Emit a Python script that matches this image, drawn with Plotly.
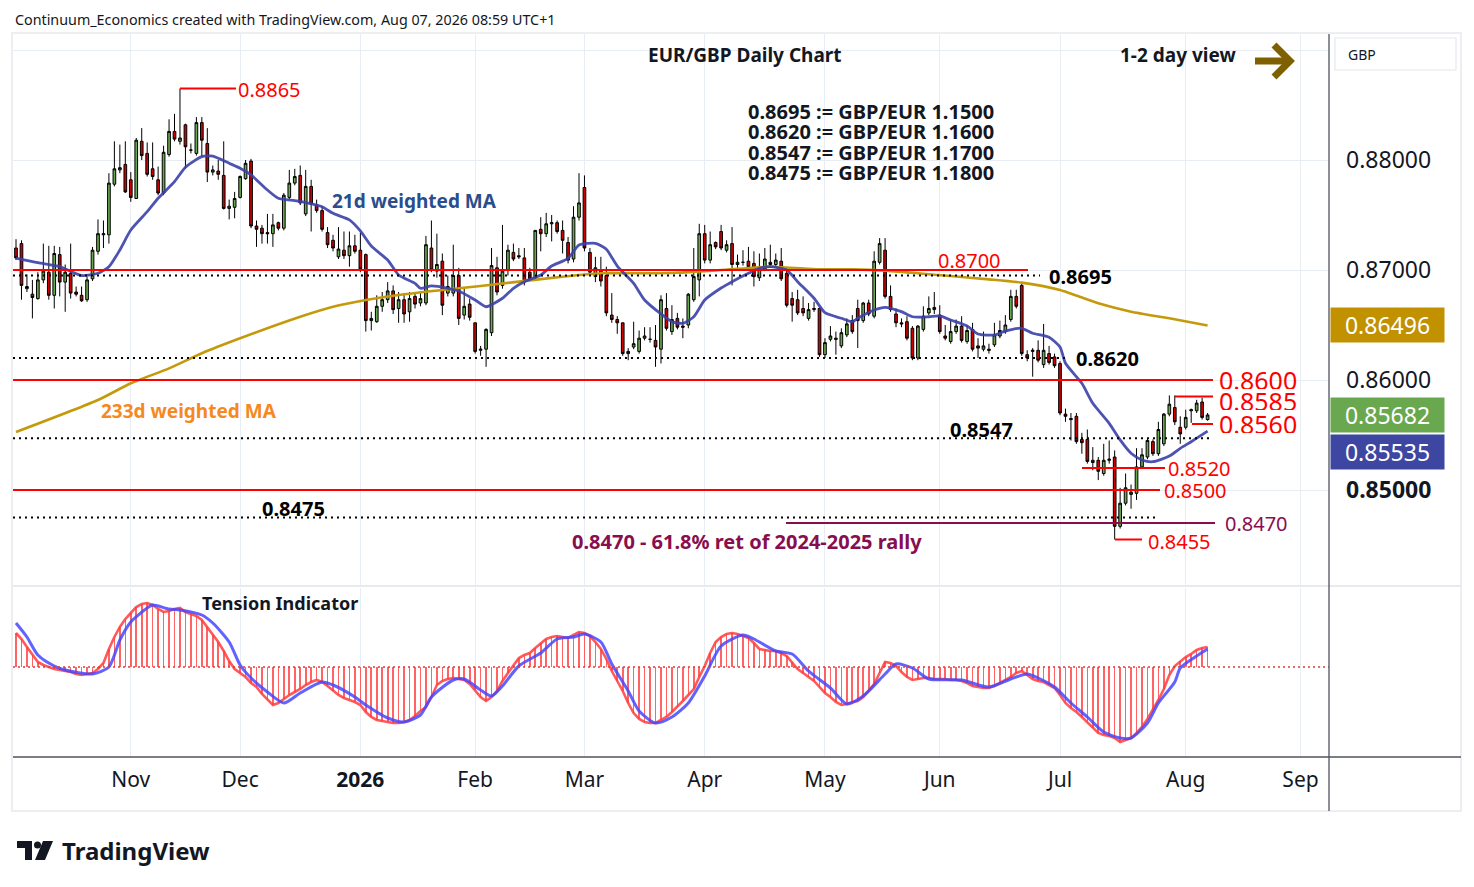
import pandas as pd
import plotly.graph_objects as go
from plotly.subplots import make_subplots

# ---------------- data (EUR/GBP daily) ----------------
open_ = [
    0.8720, 0.8724, 0.8683, 0.8678, 0.8674, 0.8691, 0.8698, 0.8677, 0.8714, 0.8689,
    0.8697, 0.8680, 0.8677, 0.8673, 0.8692, 0.8717, 0.8732, 0.8732, 0.8778, 0.8791,
    0.8796, 0.8782, 0.8765, 0.8817, 0.8806, 0.8792, 0.8782, 0.8770, 0.8805, 0.8826,
    0.8817, 0.8832, 0.8809, 0.8806, 0.8834, 0.8815, 0.8789, 0.8790, 0.8786, 0.8756,
    0.8757, 0.8766, 0.8783, 0.8799, 0.8740, 0.8738, 0.8734, 0.8733, 0.8743, 0.8738,
    0.8766, 0.8779, 0.8786, 0.8751, 0.8776, 0.8759, 0.8754, 0.8734, 0.8727, 0.8712,
    0.8718, 0.8713, 0.8722, 0.8718, 0.8714, 0.8654, 0.8653, 0.8667, 0.8673, 0.8681,
    0.8665, 0.8673, 0.8662, 0.8676, 0.8670, 0.8670, 0.8720, 0.8699, 0.8708, 0.8679,
    0.8679, 0.8695, 0.8659, 0.8669, 0.8652, 0.8627, 0.8628, 0.8643, 0.8702, 0.8686,
    0.8700, 0.8716, 0.8713, 0.8711, 0.8698, 0.8693, 0.8737, 0.8733, 0.8742, 0.8743,
    0.8736, 0.8725, 0.8710, 0.8748, 0.8775, 0.8716, 0.8694, 0.8700, 0.8695, 0.8659,
    0.8655, 0.8652, 0.8624, 0.8630, 0.8626, 0.8638, 0.8637, 0.8636, 0.8628, 0.8665,
    0.8644, 0.8656, 0.8649, 0.8650, 0.8673, 0.8691, 0.8733, 0.8709, 0.8725, 0.8735,
    0.8718, 0.8724, 0.8705, 0.8707, 0.8708, 0.8706, 0.8693, 0.8701, 0.8707, 0.8705,
    0.8708, 0.8697, 0.8674, 0.8673, 0.8665, 0.8656, 0.8664, 0.8665, 0.8623, 0.8637,
    0.8638, 0.8631, 0.8641, 0.8654, 0.8665, 0.8654, 0.8670, 0.8658, 0.8707, 0.8718,
    0.8676, 0.8660, 0.8652, 0.8653, 0.8647, 0.8620, 0.8646, 0.8661, 0.8664, 0.8659,
    0.8640, 0.8635, 0.8644, 0.8649, 0.8635, 0.8646, 0.8631, 0.8628, 0.8628, 0.8632,
    0.8640, 0.8644, 0.8655, 0.8676, 0.8686, 0.8623, 0.8626, 0.8627, 0.8614, 0.8624,
    0.8621, 0.8615, 0.8569, 0.8565, 0.8567, 0.8546, 0.8546, 0.8525, 0.8527, 0.8515,
    0.8527, 0.8530, 0.8467, 0.8488, 0.8496, 0.8497, 0.8521, 0.8530, 0.8544, 0.8533,
    0.8542, 0.8569, 0.8575, 0.8557, 0.8557, 0.8572, 0.8572, 0.8580, 0.8564,
]
high = [
    0.8728, 0.8727, 0.8696, 0.8691, 0.8698, 0.8724, 0.8722, 0.8722, 0.8721, 0.8705,
    0.8724, 0.8685, 0.8685, 0.8694, 0.8721, 0.8746, 0.8745, 0.8788, 0.8817, 0.8814,
    0.8817, 0.8789, 0.8820, 0.8829, 0.8816, 0.8816, 0.8794, 0.8813, 0.8837, 0.8842,
    0.8865, 0.8833, 0.8815, 0.8839, 0.8839, 0.8829, 0.8795, 0.8800, 0.8817, 0.8764,
    0.8771, 0.8786, 0.8800, 0.8801, 0.8745, 0.8741, 0.8751, 0.8751, 0.8744, 0.8770,
    0.8791, 0.8792, 0.8795, 0.8791, 0.8782, 0.8764, 0.8758, 0.8739, 0.8732, 0.8739,
    0.8735, 0.8735, 0.8732, 0.8734, 0.8715, 0.8662, 0.8677, 0.8680, 0.8689, 0.8686,
    0.8680, 0.8679, 0.8680, 0.8680, 0.8680, 0.8731, 0.8745, 0.8733, 0.8715, 0.8695,
    0.8723, 0.8702, 0.8683, 0.8674, 0.8652, 0.8631, 0.8647, 0.8720, 0.8712, 0.8741,
    0.8723, 0.8724, 0.8720, 0.8720, 0.8702, 0.8736, 0.8748, 0.8752, 0.8750, 0.8745,
    0.8745, 0.8730, 0.8758, 0.8788, 0.8786, 0.8720, 0.8712, 0.8712, 0.8703, 0.8679,
    0.8658, 0.8652, 0.8629, 0.8653, 0.8645, 0.8648, 0.8648, 0.8650, 0.8677, 0.8679,
    0.8668, 0.8661, 0.8656, 0.8679, 0.8720, 0.8742, 0.8741, 0.8735, 0.8726, 0.8741,
    0.8727, 0.8739, 0.8714, 0.8718, 0.8721, 0.8717, 0.8715, 0.8720, 0.8723, 0.8715,
    0.8720, 0.8702, 0.8680, 0.8682, 0.8676, 0.8670, 0.8671, 0.8666, 0.8638, 0.8649,
    0.8644, 0.8647, 0.8656, 0.8659, 0.8673, 0.8671, 0.8673, 0.8717, 0.8729, 0.8729,
    0.8686, 0.8665, 0.8656, 0.8658, 0.8649, 0.8650, 0.8667, 0.8676, 0.8680, 0.8668,
    0.8650, 0.8655, 0.8655, 0.8658, 0.8650, 0.8652, 0.8638, 0.8644, 0.8633, 0.8652,
    0.8654, 0.8659, 0.8682, 0.8682, 0.8689, 0.8627, 0.8629, 0.8636, 0.8651, 0.8631,
    0.8624, 0.8617, 0.8574, 0.8570, 0.8570, 0.8552, 0.8555, 0.8539, 0.8530, 0.8542,
    0.8545, 0.8536, 0.8502, 0.8515, 0.8505, 0.8538, 0.8538, 0.8547, 0.8546, 0.8562,
    0.8570, 0.8586, 0.8586, 0.8567, 0.8573, 0.8574, 0.8582, 0.8584, 0.8570,
]
low = [
    0.8709, 0.8673, 0.8680, 0.8656, 0.8673, 0.8688, 0.8673, 0.8665, 0.8676, 0.8662,
    0.8674, 0.8676, 0.8671, 0.8671, 0.8690, 0.8714, 0.8720, 0.8724, 0.8776, 0.8788,
    0.8770, 0.8762, 0.8765, 0.8800, 0.8785, 0.8782, 0.8768, 0.8768, 0.8803, 0.8817,
    0.8814, 0.8792, 0.8806, 0.8804, 0.8803, 0.8780, 0.8786, 0.8782, 0.8755, 0.8746,
    0.8747, 0.8765, 0.8782, 0.8738, 0.8721, 0.8724, 0.8724, 0.8721, 0.8736, 0.8736,
    0.8764, 0.8777, 0.8759, 0.8749, 0.8735, 0.8752, 0.8735, 0.8720, 0.8717, 0.8710,
    0.8710, 0.8703, 0.8715, 0.8698, 0.8644, 0.8645, 0.8652, 0.8662, 0.8670, 0.8660,
    0.8652, 0.8652, 0.8653, 0.8665, 0.8667, 0.8668, 0.8698, 0.8693, 0.8659, 0.8676,
    0.8676, 0.8650, 0.8655, 0.8654, 0.8624, 0.8622, 0.8612, 0.8640, 0.8677, 0.8683,
    0.8695, 0.8708, 0.8710, 0.8686, 0.8690, 0.8690, 0.8717, 0.8730, 0.8726, 0.8733,
    0.8715, 0.8706, 0.8707, 0.8745, 0.8717, 0.8695, 0.8689, 0.8685, 0.8658, 0.8652,
    0.8642, 0.8622, 0.8618, 0.8628, 0.8624, 0.8636, 0.8634, 0.8612, 0.8615, 0.8645,
    0.8641, 0.8646, 0.8638, 0.8647, 0.8671, 0.8676, 0.8706, 0.8706, 0.8719, 0.8718,
    0.8716, 0.8686, 0.8702, 0.8704, 0.8700, 0.8685, 0.8690, 0.8699, 0.8703, 0.8703,
    0.8690, 0.8666, 0.8653, 0.8659, 0.8658, 0.8654, 0.8662, 0.8621, 0.8620, 0.8635,
    0.8623, 0.8629, 0.8639, 0.8642, 0.8629, 0.8652, 0.8658, 0.8656, 0.8705, 0.8674,
    0.8662, 0.8648, 0.8648, 0.8636, 0.8618, 0.8618, 0.8644, 0.8659, 0.8660, 0.8642,
    0.8636, 0.8633, 0.8642, 0.8634, 0.8633, 0.8626, 0.8620, 0.8626, 0.8624, 0.8630,
    0.8638, 0.8642, 0.8653, 0.8665, 0.8622, 0.8617, 0.8603, 0.8616, 0.8611, 0.8614,
    0.8611, 0.8568, 0.8562, 0.8545, 0.8542, 0.8533, 0.8524, 0.8518, 0.8509, 0.8513,
    0.8524, 0.8455, 0.8465, 0.8486, 0.8483, 0.8491, 0.8519, 0.8528, 0.8531, 0.8531,
    0.8540, 0.8567, 0.8559, 0.8542, 0.8555, 0.8561, 0.8570, 0.8564, 0.8563,
]
close = [
    0.8711, 0.8686, 0.8685, 0.8675, 0.8691, 0.8699, 0.8677, 0.8715, 0.8689, 0.8698,
    0.8679, 0.8678, 0.8672, 0.8691, 0.8718, 0.8733, 0.8733, 0.8779, 0.8792, 0.8793,
    0.8771, 0.8766, 0.8818, 0.8804, 0.8787, 0.8785, 0.8770, 0.8807, 0.8826, 0.8819,
    0.8820, 0.8812, 0.8809, 0.8834, 0.8818, 0.8789, 0.8791, 0.8787, 0.8756, 0.8758,
    0.8765, 0.8785, 0.8797, 0.8740, 0.8737, 0.8733, 0.8733, 0.8741, 0.8738, 0.8768,
    0.8779, 0.8785, 0.8761, 0.8776, 0.8760, 0.8754, 0.8737, 0.8723, 0.8720, 0.8719,
    0.8713, 0.8722, 0.8717, 0.8701, 0.8654, 0.8656, 0.8667, 0.8673, 0.8681, 0.8664,
    0.8673, 0.8660, 0.8674, 0.8669, 0.8674, 0.8723, 0.8700, 0.8705, 0.8668, 0.8685,
    0.8695, 0.8656, 0.8667, 0.8657, 0.8626, 0.8628, 0.8646, 0.8704, 0.8680, 0.8699,
    0.8718, 0.8710, 0.8712, 0.8689, 0.8692, 0.8736, 0.8733, 0.8742, 0.8743, 0.8735,
    0.8727, 0.8709, 0.8748, 0.8761, 0.8720, 0.8698, 0.8702, 0.8690, 0.8661, 0.8655,
    0.8652, 0.8624, 0.8626, 0.8633, 0.8638, 0.8640, 0.8637, 0.8630, 0.8673, 0.8647,
    0.8655, 0.8648, 0.8648, 0.8678, 0.8694, 0.8733, 0.8709, 0.8723, 0.8721, 0.8720,
    0.8723, 0.8705, 0.8707, 0.8707, 0.8703, 0.8694, 0.8701, 0.8710, 0.8705, 0.8709,
    0.8692, 0.8668, 0.8668, 0.8661, 0.8661, 0.8664, 0.8665, 0.8623, 0.8634, 0.8640,
    0.8637, 0.8643, 0.8651, 0.8644, 0.8654, 0.8670, 0.8660, 0.8708, 0.8724, 0.8676,
    0.8664, 0.8652, 0.8651, 0.8638, 0.8620, 0.8649, 0.8658, 0.8665, 0.8666, 0.8644,
    0.8638, 0.8644, 0.8649, 0.8636, 0.8645, 0.8628, 0.8629, 0.8631, 0.8627, 0.8641,
    0.8645, 0.8650, 0.8676, 0.8667, 0.8624, 0.8620, 0.8627, 0.8618, 0.8627, 0.8616,
    0.8613, 0.8570, 0.8567, 0.8564, 0.8544, 0.8543, 0.8526, 0.8527, 0.8517, 0.8527,
    0.8528, 0.8467, 0.8488, 0.8502, 0.8498, 0.8521, 0.8532, 0.8545, 0.8533, 0.8555,
    0.8569, 0.8578, 0.8562, 0.8551, 0.8566, 0.8573, 0.8579, 0.8566, 0.85682,
]

# 21d weighted MA (bar number, value)
ma21_bar = [0, 4, 8, 12, 15, 17, 19, 21, 24, 26, 29, 31, 34, 36, 39, 41, 43, 46, 48, 51,
            53, 56, 58, 61, 63, 65, 68, 70, 73, 74, 76, 79, 81, 84, 86, 89, 91, 93, 96, 98,
            101, 103, 106, 108, 110, 113, 115, 118, 120, 122, 124, 126, 129, 131, 134, 136,
            138, 141, 143, 146, 148, 151, 153, 154, 157, 159, 162, 164, 167, 169, 171, 174,
            176, 179, 181, 184, 186, 189, 191, 192, 195, 197, 200, 202, 204, 206, 208, 211,
            213, 215, 218]
ma21_val = [0.87109, 0.87066, 0.87030, 0.86950, 0.86970, 0.87030, 0.87182, 0.87364, 0.87530,
            0.87652, 0.87803, 0.87934, 0.88030, 0.88036, 0.87970, 0.87925, 0.87864, 0.87727,
            0.87652, 0.87630, 0.87612, 0.87575, 0.87515, 0.87455, 0.87355, 0.87218, 0.87091,
            0.86955, 0.86879, 0.86834, 0.86855, 0.86834, 0.86809, 0.86727, 0.86666, 0.86743,
            0.86834, 0.86894, 0.86955, 0.87036, 0.87106, 0.87227, 0.87243, 0.87188, 0.87036,
            0.86879, 0.86727, 0.86600, 0.86530, 0.86515, 0.86575, 0.86727, 0.86836, 0.86894,
            0.86970, 0.87015, 0.87030, 0.87000, 0.86894, 0.86743, 0.86612, 0.86561, 0.86530,
            0.86561, 0.86636, 0.86661, 0.86621, 0.86575, 0.86575, 0.86582, 0.86545, 0.86491,
            0.86418, 0.86409, 0.86445, 0.86470, 0.86425, 0.86388, 0.86300, 0.86152, 0.85970,
            0.85788, 0.85606, 0.85455, 0.85334, 0.85273, 0.85257, 0.85309, 0.85379, 0.85439,
            0.85535]
# 233d weighted MA (bar number, value)
ma233_bar = [0, 15, 21, 28, 34, 41, 52, 58, 64, 70, 78, 85, 92, 100, 107, 114, 121, 129,
             138, 147, 153, 159, 165, 171, 178, 184, 191, 198, 204, 211, 218]
ma233_val = [0.85527, 0.85818, 0.85970, 0.86106, 0.86243, 0.86379, 0.86575, 0.86666,
             0.86727, 0.86773, 0.86818, 0.86855, 0.86894, 0.86939, 0.86970, 0.86970,
             0.86975, 0.87000, 0.87030, 0.87006, 0.87006, 0.86994, 0.86970, 0.86945,
             0.86915, 0.86885, 0.86818, 0.86697, 0.86621, 0.86561, 0.86496]

# Tension Indicator (one value per bar) and its signal line
tension = [
    34, 28, 20, 12, 5, 2, 0, -2, -3, -4,
    -5, -7, -8, -7, -6, -2, 4, 18, 30, 40,
    48, 54, 60, 63, 64, 62, 58, 55, 56, 58,
    59, 55, 53, 51, 47, 40, 32, 25, 16, 6,
    -2, -6, -10, -16, -20, -27, -33, -38, -36, -32,
    -28, -25, -22, -18, -15, -13, -15, -19, -24, -28,
    -31, -33, -35, -38, -45, -50, -53, -54, -55, -56,
    -56, -55, -53, -49, -44, -40, -30, -18, -14, -12,
    -11, -12, -13, -17, -23, -30, -34, -30, -24, -14,
    -6, 2, 9, 12, 14, 19, 24, 28, 30, 31,
    30, 29, 32, 35, 34, 31, 25, 18, 8, -4,
    -14, -24, -36, -46, -52, -55, -56, -56, -53, -50,
    -45, -40, -34, -28, -22, -10, 1, 14, 25, 30,
    33, 34, 33, 31, 29, 24, 18, 17, 16, 16,
    14, 11, 5, -2, -6, -10, -14, -20, -26, -30,
    -35, -38, -37, -35, -34, -30, -24, -17, -6, 5,
    4, 1, -5, -10, -13, -12, -11, -11, -12, -12,
    -12, -13, -13, -14, -16, -19, -20, -21, -21, -19,
    -16, -13, -10, -6, -4, -8, -12, -14, -15, -18,
    -21, -28, -36, -41, -45, -50, -55, -61, -66, -68,
    -69, -71, -75, -73, -71, -66, -60, -52, -43, -33,
    -22, -8, 1, 6, 10, 13, 17, 19, 20,
]
signal_bar = [0, 2, 4, 7, 9, 14, 17, 19, 21, 24, 25, 28, 30, 34, 36, 39, 41, 43, 46, 49,
              52, 56, 58, 62, 64, 68, 71, 74, 76, 80, 82, 85, 87, 89, 92, 96, 99, 102, 104,
              107, 109, 112, 114, 117, 120, 123, 126, 129, 133, 135, 139, 142, 145, 149,
              152, 155, 159, 161, 164, 167, 173, 178, 182, 185, 187, 190, 193, 196, 199,
              202, 204, 207, 209, 212, 213, 216, 218]
signal_val = [44, 30, 12, 1, -3, -7, 0, 27, 45, 59, 62, 58, 57, 52, 44, 25, 2, -11, -25, -36,
              -26, -15, -18, -30, -38, -51, -55, -48, -30, -13, -12, -23, -29, -19, 1, 14,
              28, 30, 33, 25, 3, -24, -44, -56, -50, -36, -9, 21, 32, 28, 16, 13, -4, -21,
              -37, -29, -7, 3, -1, -12, -13, -20, -12, -7, -11, -20, -36, -50, -65, -71,
              -71, -56, -36, -15, -1, 11, 18]

# marked price levels
lv_high = 0.8865
lv_8700 = 0.8700
lv_8695 = 0.8695
lv_8620 = 0.8620
lv_8600 = 0.8600
lv_8585 = 0.8585
lv_8560 = 0.8560
lv_8547 = 0.8547
lv_8520 = 0.8520
lv_8500 = 0.8500
lv_8475 = 0.8475
lv_8470 = 0.8470
lv_8455 = 0.8455

price_ticks = [0.85, 0.86, 0.87, 0.88, 0.89]
price_tick_text = ["<b>0.85000</b>", "0.86000", "0.87000", "0.88000", ""]
last_close = 0.85682
last_ma21 = 0.85535
last_ma233 = 0.86496
conversions = ["0.8695 := GBP/EUR 1.1500", "0.8620 := GBP/EUR 1.1600",
               "0.8547 := GBP/EUR 1.1700", "0.8475 := GBP/EUR 1.1800"]

# ---------------- calendar (trading days, no Christmas / New Year bars) ----------------
n = len(close)
bars = list(range(n))
days = pd.bdate_range("2025-10-03", "2026-09-30")
days = days[~days.isin(pd.to_datetime(["2025-12-25", "2026-01-01"]))]
tick_pos, tick_txt = [], []
for m in pd.period_range("2025-11", "2026-09", freq="M"):
    idx = next(i for i, d in enumerate(days) if d.year == m.year and d.month == m.month)
    tick_pos.append(idx)
    tick_txt.append("<b>2026</b>" if m.month == 1 else m.strftime("%b"))

# ---------------- geometry helpers (page pixel -> paper / bar) ----------------
OFF = 8                      # page body margin of the html page
FIG_W, FIG_H = 1474 - OFF, 887 - OFF
PL, PR, PT, PB = 13, 1329, 34, 757   # plot box in page pixels
def fx(px):
    return (px - PL) / (PR - PL)
def fy(py):
    return (PB - py) / (PB - PT)
BAR0, BARW = 16.0, 5.466
def bx(px):
    return (px - BAR0) / BARW
def price_at(py):
    return 0.85 + (490 - py) / 11000.0

FONT = "Noto Sans"
INK = "#131722"
GRID = "#e8edf3"
RED = "#ff0000"
MAROON = "#880e4f"

fig = make_subplots(rows=2, cols=1, shared_xaxes=True, vertical_spacing=0.004)

fig.add_trace(go.Candlestick(
    x=bars, open=open_, high=high, low=low, close=close,
    increasing=dict(fillcolor="#6aa84f", line=dict(color="#000000", width=1)),
    decreasing=dict(fillcolor="#cc0000", line=dict(color="#000000", width=1)),
    whiskerwidth=0, hoverinfo="skip"), row=1, col=1)
fig.add_trace(go.Scatter(x=ma233_bar, y=ma233_val, mode="lines",
                         line=dict(color="#c49a0c", width=2.6, shape="spline", smoothing=0.6),
                         hoverinfo="skip"), row=1, col=1)
fig.add_trace(go.Scatter(x=ma21_bar, y=ma21_val, mode="lines",
                         line=dict(color="rgba(58,64,168,0.9)", width=2.8, shape="spline", smoothing=0.6),
                         hoverinfo="skip"), row=1, col=1)

fig.add_trace(go.Bar(x=bars, y=tension, width=0.3, marker=dict(color="rgba(255,60,60,0.8)", line=dict(width=0)),
                     hoverinfo="skip"), row=2, col=1)
fig.add_trace(go.Scatter(x=bars, y=tension, mode="lines",
                         line=dict(color="rgba(255,60,60,0.85)", width=2.6), hoverinfo="skip"), row=2, col=1)
fig.add_trace(go.Scatter(x=signal_bar, y=signal_val, mode="lines",
                         line=dict(color="rgba(70,70,255,0.85)", width=3, shape="spline", smoothing=0.7),
                         hoverinfo="skip"), row=2, col=1)

xmin, xmax = bx(PL), bx(PR)
fig.update_layout(
    width=FIG_W, height=FIG_H,
    margin=dict(l=PL - OFF, r=FIG_W - (PR - OFF), t=PT - OFF, b=FIG_H - (PB - OFF)),
    paper_bgcolor="white", plot_bgcolor="white", showlegend=False,
    font=dict(family=FONT, color=INK), bargap=0,
)
fig.update_xaxes(range=[xmin, xmax], tickvals=tick_pos, showgrid=True, gridcolor=GRID, gridwidth=1,
                 zeroline=False, showline=False, ticks="", rangeslider=dict(visible=False))
fig.update_xaxes(showticklabels=False, row=1, col=1)
fig.update_xaxes(ticktext=tick_txt, showticklabels=True, tickfont=dict(size=21, color=INK),
                 ticklabelstandoff=8, row=2, col=1)
fig.update_layout(
    yaxis=dict(domain=[(PB - 585) / (PB - PT), 1], range=[price_at(585), price_at(PT)], side="right",
               tickvals=price_ticks, ticktext=price_tick_text, tickfont=dict(size=23, color=INK),
               showgrid=True, gridcolor=GRID, zeroline=False, ticks="", ticklabelstandoff=16),
    yaxis2=dict(domain=[0, (PB - 588) / (PB - PT)], range=[-90, 79], side="right",
                showgrid=False, zeroline=False, showticklabels=False),
)

shapes = []
def hline(val, x0px, x1px, color, dash="solid", width=2):
    x0 = xmin if x0px is None else bx(x0px)
    shapes.append(dict(type="line", xref="x", yref="y", x0=x0, x1=bx(x1px), y0=val, y1=val,
                       line=dict(color=color, width=width, dash=dash)))
DOT = "2px,4px"
hline(lv_high, 180, 236, RED)
hline(lv_8700, None, 1028, RED)
hline(lv_8695, None, 1040, "#000000", DOT)
hline(lv_8620, None, 1068, "#000000", DOT)
hline(lv_8600, None, 1213, RED)
hline(lv_8585, 1175, 1213, RED)
hline(lv_8560, 1192, 1213, RED)
hline(lv_8547, None, 1213, "#000000", DOT)
hline(lv_8520, 1082, 1165, RED)
hline(lv_8500, None, 1160, RED)
hline(lv_8475, None, 1158, "#000000", DOT)
hline(lv_8470, 786, 1215, MAROON)
hline(lv_8455, 1115, 1142, RED)

# tension zero line
shapes.append(dict(type="line", xref="paper", yref="y2", x0=0, x1=1, y0=0, y1=0,
                   line=dict(color="#e53935", width=1.3, dash="2px,3px")))
# frame / separators
shapes.append(dict(type="rect", xref="paper", yref="paper", x0=fx(12), x1=fx(1461), y0=fy(811), y1=fy(33),
                   line=dict(color="#eceef2", width=2), layer="below"))
shapes.append(dict(type="line", xref="paper", yref="paper", x0=fx(13), x1=fx(1461), y0=fy(586), y1=fy(586),
                   line=dict(color="#e0e3eb", width=1.5)))
shapes.append(dict(type="line", xref="paper", yref="paper", x0=fx(13), x1=fx(1461), y0=fy(757), y1=fy(757),
                   line=dict(color="#50535e", width=1.3)))
shapes.append(dict(type="line", xref="paper", yref="paper", x0=fx(1329), x1=fx(1329), y0=fy(811), y1=fy(34),
                   line=dict(color="#50535e", width=1.3)))
# GBP box
shapes.append(dict(type="rect", xref="paper", yref="paper", x0=fx(1335), x1=fx(1456), y0=fy(70), y1=fy(38),
                   line=dict(color="#e6e8ee", width=1.2), fillcolor="white"))
# 1-2 day arrow
AR = "#7f6000"
shapes.append(dict(type="line", xref="paper", yref="paper", x0=fx(1255), x1=fx(1287), y0=fy(61), y1=fy(61),
                   line=dict(color=AR, width=7)))
shapes.append(dict(type="path", xref="paper", yref="paper",
                   path=f"M {fx(1274)},{fy(45)} L {fx(1290)},{fy(61)} L {fx(1274)},{fy(77)}",
                   line=dict(color=AR, width=7)))
# TradingView logo mark
shapes.append(dict(type="rect", xref="paper", yref="paper", x0=fx(17), x1=fx(32), y0=fy(848), y1=fy(841),
                   fillcolor="#131722", line=dict(width=0)))
shapes.append(dict(type="rect", xref="paper", yref="paper", x0=fx(25), x1=fx(32), y0=fy(860), y1=fy(841),
                   fillcolor="#131722", line=dict(width=0)))
shapes.append(dict(type="circle", xref="paper", yref="paper", x0=fx(34), x1=fx(41), y0=fy(848.5), y1=fy(841.5),
                   fillcolor="#131722", line=dict(width=0)))
shapes.append(dict(type="path", xref="paper", yref="paper",
                   path=f"M {fx(43)},{fy(841)} L {fx(53)},{fy(841)} L {fx(45)},{fy(860)} L {fx(35)},{fy(860)} Z",
                   fillcolor="#131722", line=dict(width=0)))
fig.update_layout(shapes=shapes)

ann = []
def text(s, x, y, size=19, color=INK, anchor="left", bold=False, **kw):
    ann.append(dict(text=f"<b>{s}</b>" if bold else s, xref="paper", yref="paper", x=fx(x), y=fy(y),
                    xanchor=anchor, yanchor="middle", showarrow=False,
                    font=dict(family=FONT, size=size, color=color), **kw))

text("Continuum_Economics created with TradingView.com, Aug 07, 2026 08:59 UTC+1", 13, 19, 14.3)
text("EUR/GBP Daily Chart", 745, 55, 19, anchor="center", bold=True)
text("1-2 day view", 1178, 55, 19, anchor="center", bold=True)
for k, s in enumerate(conversions):
    text(s, 746, 112 + 20 * k, 20, bold=True, height=19)
text("21d weighted MA", 414, 201, 19, "#2a4d8c", "center", True)
text("233d weighted MA", 189, 411, 19, "#f5891f", "center", True)
text("Tension Indicator", 280, 603, 18, anchor="center", bold=True)
text(f"{lv_high:.4f}", 236, 90, 20, RED)
text(f"{lv_8700:.4f}", 969, 260, 20, RED, "center")
text(f"{lv_8695:.4f}", 1047, 276, 20, "#000000", bold=True)
text(f"{lv_8620:.4f}", 1074, 359, 20, "#000000", bold=True)
text(f"{lv_8600:.4f}", 1217, 379, 25, RED, height=19)
text(f"{lv_8585:.4f}", 1217, 400, 25, RED, height=19)
text(f"{lv_8560:.4f}", 1217, 423, 25, RED, height=19)
text(f"{lv_8547:.4f}", 981, 429, 20, "#000000", "center", True)
text(f"{lv_8520:.4f}", 1166, 468, 20, RED)
text(f"{lv_8500:.4f}", 1162, 490, 20, RED)
text(f"{lv_8475:.4f}", 293, 508, 20, "#000000", "center", True)
text(f"{lv_8470:.4f}", 1223, 523, 20, MAROON)
text(f"{lv_8455:.4f}", 1146, 541, 20, RED)
text(f"{lv_8470:.4f} - 61.8% ret of 2024-2025 rally", 747, 541, 20, MAROON, "center", True)
text("GBP", 1346, 54, 14)
text("TradingView", 60, 850, 24, bold=True)

def badge(val, color, y=None, yref="y"):
    ann.append(dict(text=f"{val:.5f}", xref="paper", yref=yref, x=fx(1330),
                    y=val if y is None else y, xanchor="left", yanchor="middle", showarrow=False,
                    width=113, height=34, align="center", bgcolor=color, borderpad=0,
                    font=dict(family=FONT, size=23, color="white")))
badge(last_ma233, "#c29100")
badge(last_close, "#6aa84f")
badge(last_ma21, "#3d46a0", y=fy(452), yref="paper")
fig.update_layout(annotations=ann)

fig.write_html("out.html")
